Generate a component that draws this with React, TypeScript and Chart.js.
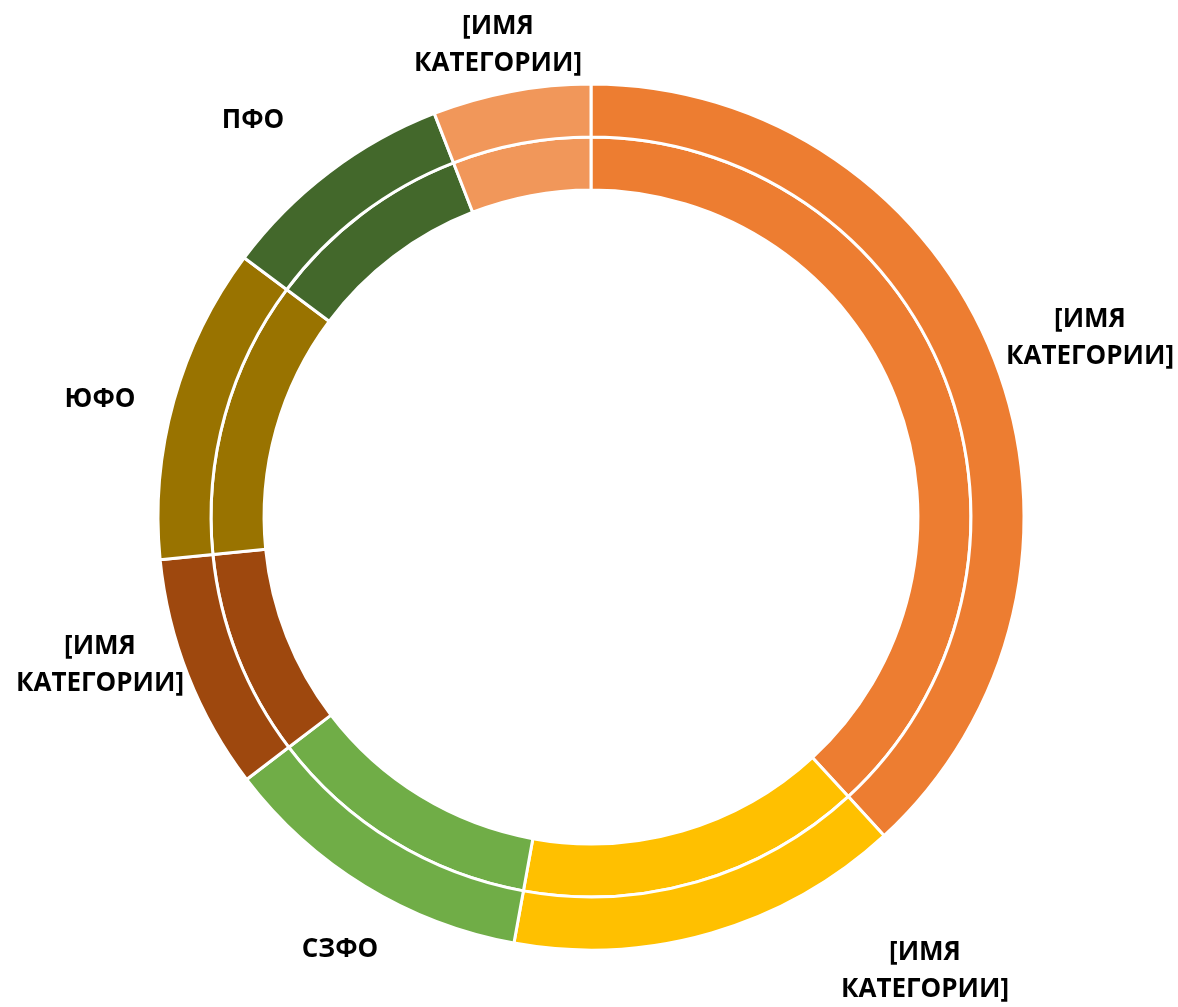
import React, { useEffect, useRef } from "react";
import { Chart, registerables } from "chart.js";

Chart.register(...registerables);

const categories = [
  "[ИМЯ КАТЕГОРИИ]",
  "[ИМЯ КАТЕГОРИИ]",
  "СЗФО",
  "[ИМЯ КАТЕГОРИИ]",
  "ЮФО",
  "ПФО",
  "[ИМЯ КАТЕГОРИИ]",
];
const labelLines = [
  ["[ИМЯ", "КАТЕГОРИИ]"],
  ["[ИМЯ", "КАТЕГОРИИ]"],
  ["СЗФО"],
  ["[ИМЯ", "КАТЕГОРИИ]"],
  ["ЮФО"],
  ["ПФО"],
  ["[ИМЯ", "КАТЕГОРИИ]"],
];
const outerValues = [38.2, 14.7, 11.8, 8.8, 11.8, 8.9, 5.9];
const innerValues = [38.2, 14.7, 11.8, 8.8, 11.8, 8.9, 5.9];
const colors = ["#ED7D31", "#FFC000", "#70AD47", "#9E480E", "#997300", "#43682B", "#F1975A"];
// label centre offsets relative to chart centre (px)
const labelOffsets = [
  [499, -179],
  [334, 454],
  [-251, 433],
  [-491, 148],
  [-491, -117],
  [-338, -396],
  [-93, -472],
];

const labelPlugin = {
  id: "outerLabels",
  afterDraw(chart: any) {
    const meta = chart.getDatasetMeta(0);
    if (!meta.data.length) return;
    const arc = meta.data[0];
    const cx = arc.x;
    const cy = arc.y;
    const ctx = chart.ctx;
    ctx.save();
    ctx.font = "bold 26px 'Open Sans'";
    ctx.fillStyle = "#000000";
    ctx.textAlign = "center";
    ctx.textBaseline = "middle";
    const lh = 37;
    labelLines.forEach((lines, i) => {
      const [ox, oy] = labelOffsets[i];
      const startY = cy + oy - ((lines.length - 1) * lh) / 2;
      lines.forEach((t, j) => ctx.fillText(t, cx + ox, startY + j * lh));
    });
    ctx.restore();
  },
};

export default function App() {
  const ref = useRef<HTMLCanvasElement>(null);
  useEffect(() => {
    const chart = new Chart(ref.current!, {
      type: "doughnut",
      data: {
        labels: categories,
        datasets: [
          { data: outerValues, backgroundColor: colors, borderColor: "#FFFFFF", borderWidth: 3 },
          { data: innerValues, backgroundColor: colors, borderColor: "#FFFFFF", borderWidth: 3 },
        ],
      },
      options: {
        animation: false,
        responsive: false,
        radius: 433,
        cutout: "75.5%",
        layout: { padding: { top: 27, left: 4, right: 0, bottom: 0 } },
        plugins: { legend: { display: false }, tooltip: { enabled: false } },
      } as any,
      plugins: [labelPlugin],
    });
    return () => chart.destroy();
  }, []);
  return (
    <div style={{ position: "absolute", left: 0, top: 0, width: 1178, height: 1007, background: "#fff" }}>
      <canvas ref={ref} width={1178} height={1007} />
    </div>
  );
}
